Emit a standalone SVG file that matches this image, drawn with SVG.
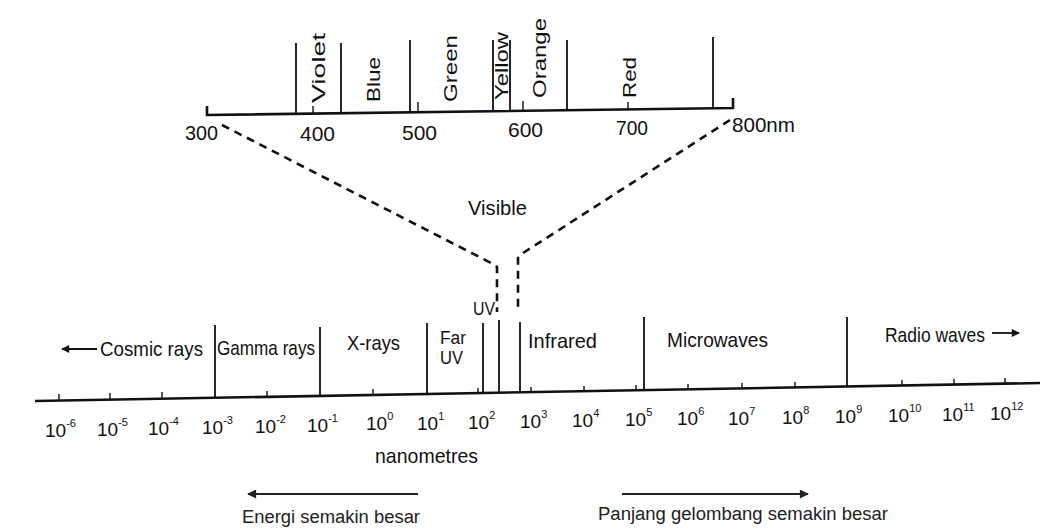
<svg xmlns="http://www.w3.org/2000/svg" width="1043" height="529" viewBox="0 0 1043 529">
<defs>
<marker id="ah" viewBox="0 0 10 10" refX="9" refY="5" markerWidth="10" markerHeight="8" orient="auto-start-reverse" markerUnits="userSpaceOnUse"><path d="M0,0 L10,5 L0,10 z" fill="#111"/></marker>
<marker id="ah2" viewBox="0 0 10 10" refX="9" refY="5" markerWidth="14" markerHeight="9" orient="auto-start-reverse" markerUnits="userSpaceOnUse"><path d="M0,0 L10,5 L0,10 z" fill="#222"/></marker>
</defs>
<style>
.t{font-family:"Liberation Sans",Arial,sans-serif;fill:#111}
.lbl{font-size:21px}
.sm{font-size:18px}
.num{font-size:21px}
.col{font-size:18px}
.ax{font-size:19px}
.sup{font-size:11px}
.ln{stroke:#111;stroke-width:1.8;fill:none}
.tk{stroke:#111;stroke-width:1.4;fill:none}
.axis{stroke:#111;stroke-width:2.6;fill:none}
.dash{stroke:#111;stroke-width:2.6;stroke-dasharray:8 6;fill:none}
.cap{font-family:"Liberation Sans",Arial,sans-serif;font-size:18px;fill:#222}
.arr{stroke:#222;stroke-width:1.8;fill:none}
</style>
<rect width="1043" height="529" fill="#fff"/>

<g id="visible-scale">
  <path class="axis" d="M207,106 L207,115 L733,108 L733,98"/>
  <path class="ln" d="M296,43 V113 M341,43 V112 M410,40 V111 M493,40 V110 M510,40 V110 M567,40 V109 M713,37 V108"/>
  <path class="tk" d="M313,106 V113 M418,102 V111 M523,101 V110 M628,102 V109"/>
  <text class="t col" transform="translate(325,103) rotate(-90)" textLength="70" lengthAdjust="spacingAndGlyphs">Violet</text>
  <text class="t col" transform="translate(380,102) rotate(-90)" textLength="45" lengthAdjust="spacingAndGlyphs">Blue</text>
  <text class="t col" transform="translate(457,102) rotate(-90)" textLength="67" lengthAdjust="spacingAndGlyphs">Green</text>
  <text class="t col" transform="translate(508,100) rotate(-90)" textLength="68" lengthAdjust="spacingAndGlyphs">Yellow</text>
  <text class="t col" transform="translate(546,98) rotate(-90)" textLength="80" lengthAdjust="spacingAndGlyphs">Orange</text>
  <text class="t col" transform="translate(636,98) rotate(-90)" textLength="41" lengthAdjust="spacingAndGlyphs">Red</text>
  <text class="t num" x="185" y="140" textLength="33" lengthAdjust="spacingAndGlyphs">300</text>
  <text class="t num" x="300" y="141" textLength="35" lengthAdjust="spacingAndGlyphs">400</text>
  <text class="t num" x="402" y="140" textLength="35" lengthAdjust="spacingAndGlyphs">500</text>
  <text class="t num" x="508" y="137" textLength="35" lengthAdjust="spacingAndGlyphs">600</text>
  <text class="t num" x="616" y="135" textLength="32" lengthAdjust="spacingAndGlyphs">700</text>
  <text class="t num" x="732" y="132" textLength="63" lengthAdjust="spacingAndGlyphs">800nm</text>
</g>

<g id="visible-label">
  <text class="t lbl" x="468" y="215" textLength="59" lengthAdjust="spacingAndGlyphs">Visible</text>
</g>

<g id="spectrum-axis">
  <path class="axis" d="M35,401 L1040,383"/>
  <path class="ln" d="M215,325 V398 M320,327 V396 M427,323 V394 M483,323 V393 M499,320 V393 M520,322 V392 M644,317 V390 M847,317 V386"/>
  <path class="tk" d="M59,394 V400 M110,393 V399 M162,392 V398 M267,391 V397 M373,389 V395 M478,388 V394 M531,387 V393 M584,386 V392 M636,385 V391 M688,384 V390 M742,383 V389 M795,382 V388 M902,380 V386 M954,379 V385 M1005,378 V384"/>
</g>

<g id="axis-labels">
  <text class="t ax" x="45" y="437">10<tspan class="sup" dy="-10">-6</tspan></text>
  <text class="t ax" x="97" y="436">10<tspan class="sup" dy="-10">-5</tspan></text>
  <text class="t ax" x="148" y="435">10<tspan class="sup" dy="-10">-4</tspan></text>
  <text class="t ax" x="202" y="434">10<tspan class="sup" dy="-10">-3</tspan></text>
  <text class="t ax" x="255" y="433">10<tspan class="sup" dy="-10">-2</tspan></text>
  <text class="t ax" x="307" y="432">10<tspan class="sup" dy="-10">-1</tspan></text>
  <text class="t ax" x="366" y="430">10<tspan class="sup" dy="-10">0</tspan></text>
  <text class="t ax" x="417" y="430">10<tspan class="sup" dy="-10">1</tspan></text>
  <text class="t ax" x="468" y="429">10<tspan class="sup" dy="-10">2</tspan></text>
  <text class="t ax" x="520" y="428">10<tspan class="sup" dy="-10">3</tspan></text>
  <text class="t ax" x="572" y="427">10<tspan class="sup" dy="-10">4</tspan></text>
  <text class="t ax" x="625" y="426">10<tspan class="sup" dy="-10">5</tspan></text>
  <text class="t ax" x="677" y="425">10<tspan class="sup" dy="-10">6</tspan></text>
  <text class="t ax" x="728" y="425">10<tspan class="sup" dy="-10">7</tspan></text>
  <text class="t ax" x="782" y="424">10<tspan class="sup" dy="-10">8</tspan></text>
  <text class="t ax" x="835" y="423">10<tspan class="sup" dy="-10">9</tspan></text>
  <text class="t ax" x="888" y="422">10<tspan class="sup" dy="-10">10</tspan></text>
  <text class="t ax" x="942" y="421">10<tspan class="sup" dy="-10">11</tspan></text>
  <text class="t ax" x="990" y="420">10<tspan class="sup" dy="-10">12</tspan></text>
  <text class="t lbl" x="375" y="463" textLength="103" lengthAdjust="spacingAndGlyphs">nanometres</text>
</g>

<g id="band-cosmic"><text class="t lbl" x="100" y="356" textLength="103" lengthAdjust="spacingAndGlyphs">Cosmic rays</text></g>
<g id="band-gamma"><text class="t lbl" x="217" y="355" textLength="98" lengthAdjust="spacingAndGlyphs">Gamma rays</text></g>
<g id="band-xrays"><text class="t lbl" x="347" y="350" textLength="53" lengthAdjust="spacingAndGlyphs">X-rays</text></g>
<g id="band-far-uv">
  <text class="t sm" x="440" y="344" textLength="26" lengthAdjust="spacingAndGlyphs">Far</text>
  <text class="t sm" x="440" y="364" textLength="23" lengthAdjust="spacingAndGlyphs">UV</text>
</g>
<g id="band-uv"><text class="t sm" x="473" y="315" textLength="22" lengthAdjust="spacingAndGlyphs">UV</text></g>
<g id="band-infrared"><text class="t lbl" x="528" y="348" textLength="69" lengthAdjust="spacingAndGlyphs">Infrared</text></g>
<g id="band-microwaves"><text class="t lbl" x="667" y="347" textLength="101" lengthAdjust="spacingAndGlyphs">Microwaves</text></g>
<g id="band-radio"><text class="t lbl" x="885" y="342" textLength="100" lengthAdjust="spacingAndGlyphs">Radio waves</text></g>

<g id="captions">
  <text class="cap" x="242" y="523" textLength="178" lengthAdjust="spacingAndGlyphs">Energi semakin besar</text>
  <text class="cap" x="598" y="520" textLength="290" lengthAdjust="spacingAndGlyphs">Panjang gelombang semakin besar</text>
</g>

<g id="connectors">
  <path class="dash" d="M222,125 L495,265 L497,267 V312"/>
  <path class="dash" d="M730,120 L520,255 L518,258 V312"/>
  <line class="ln" x1="97" y1="349" x2="62" y2="349" marker-end="url(#ah)"/>
  <line class="ln" x1="992" y1="333" x2="1019" y2="333" marker-end="url(#ah)"/>
  <line class="arr" x1="418" y1="494" x2="248" y2="494" marker-end="url(#ah2)"/>
  <line class="arr" x1="622" y1="494" x2="808" y2="494" marker-end="url(#ah2)"/>
</g>
</svg>
